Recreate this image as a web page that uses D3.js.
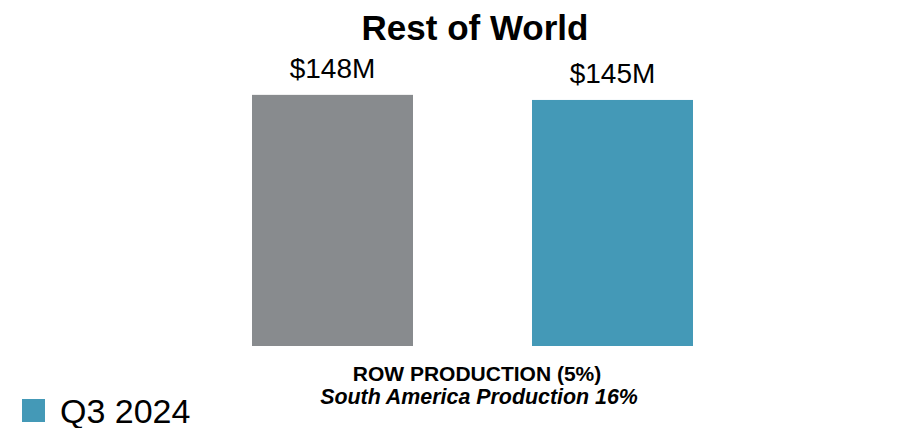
<!DOCTYPE html>
<html>
<head>
<meta charset="utf-8">
<script src="https://cdn.jsdelivr.net/npm/d3@7"></script>
<style>
  body { margin: 0; background: #fff; }
  text { font-family: Arial, "Liberation Sans", sans-serif; fill: #000; }
</style>
</head>
<body>
<div id="container"></div>
<script>
// chart data
var categories = ["Q3 2023", "Q3 2024"];
var values = [148, 145];
var valueLabels = ["$148M", "$145M"];
var colors = ["#888b8e", "#4499b7"];
var legendItems = ["Q3 2024"];

var width = 924, height = 428;

var svg = d3.select("#container")
  .append("svg")
  .attr("width", width)
  .attr("height", height);

// scales
var x = d3.scaleBand()
  .domain(categories)
  .range([192.5, 752.5])
  .paddingInner(0.425)
  .paddingOuter(0.2125);

var y = d3.scaleLinear()
  .domain([0, 160])
  .range([346, 74.5]);

// title
svg.append("text")
  .attr("x", 475)
  .attr("y", 40)
  .attr("text-anchor", "middle")
  .style("font-size", "35px")
  .style("font-weight", "bold")
  .text("Rest of World");

// bars
svg.selectAll("rect.bar")
  .data(categories)
  .enter()
  .append("rect")
  .attr("class", "bar")
  .attr("x", function(d) { return x(d); })
  .attr("y", function(d, i) { return y(values[i]); })
  .attr("width", x.bandwidth())
  .attr("height", function(d, i) { return y(0) - y(values[i]); })
  .attr("fill", function(d, i) { return colors[i]; });

// value labels
svg.selectAll("text.val")
  .data(categories)
  .enter()
  .append("text")
  .attr("class", "val")
  .attr("x", function(d) { return x(d) + x.bandwidth() / 2; })
  .attr("y", function(d, i) { return y(values[i]) - 17; })
  .attr("text-anchor", "middle")
  .style("font-size", "28px")
  .text(function(d, i) { return valueLabels[i]; });

// notes under the bars
svg.append("text")
  .attr("x", 477)
  .attr("y", 381)
  .attr("text-anchor", "middle")
  .style("font-size", "21px")
  .style("font-weight", "bold")
  .text("ROW PRODUCTION (5%)");

svg.append("text")
  .attr("x", 479)
  .attr("y", 404)
  .attr("text-anchor", "middle")
  .style("font-size", "21.4px")
  .style("font-weight", "bold")
  .style("font-style", "italic")
  .text("South America Production 16%");

// legend
var legend = svg.selectAll("g.legend")
  .data(legendItems)
  .enter()
  .append("g")
  .attr("class", "legend")
  .attr("transform", "translate(22, 399)");

legend.append("rect")
  .attr("width", 23)
  .attr("height", 23)
  .attr("fill", colors[1]);

legend.append("text")
  .attr("x", 38)
  .attr("y", 24)
  .style("font-size", "34px")
  .text(function(d) { return d; });
</script>
</body>
</html>
